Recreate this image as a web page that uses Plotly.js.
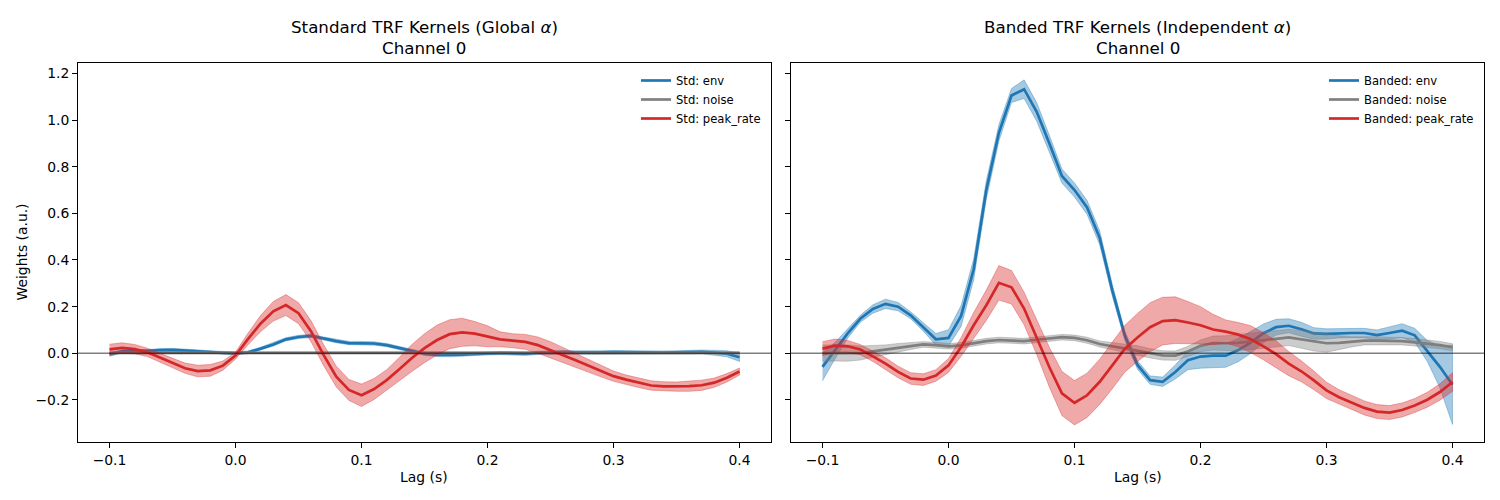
<!DOCTYPE html>
<html>
<head>
<meta charset="utf-8">
<script src="https://cdn.plot.ly/plotly-3.0.1.min.js"></script>
<style>
  html, body { margin: 0; padding: 0; background: #fff; }
  #chart { width: 1500px; height: 500px; }
</style>
</head>
<body>
<div id="chart"></div>
<script>
// Lags (s)
const lags = [
  -0.10, -0.09, -0.08, -0.07, -0.06, -0.05, -0.04, -0.03, -0.02, -0.01,
   0.00,  0.01,  0.02,  0.03,  0.04,  0.05,  0.06,  0.07,  0.08,  0.09,
   0.10,  0.11,  0.12,  0.13,  0.14,  0.15,  0.16,  0.17,  0.18,  0.19,
   0.20,  0.21,  0.22,  0.23,  0.24,  0.25,  0.26,  0.27,  0.28,  0.29,
   0.30,  0.31,  0.32,  0.33,  0.34,  0.35,  0.36,  0.37,  0.38,  0.39,
   0.40
];

// Standard model (global alpha): mean kernel and spread per feature
const stdEnv = [
  -0.005, 0.008, 0.010, 0.010, 0.014, 0.015, 0.012, 0.008, 0.006, 0.002,
   0.000, 0.004, 0.020, 0.038, 0.060, 0.070, 0.075, 0.063, 0.052, 0.044,
   0.044, 0.042, 0.035, 0.023, 0.010, -0.002, -0.007, -0.008, -0.006, -0.003,
   0.000, 0.001, 0.000, -0.002, 0.002, 0.004, 0.005, 0.004, 0.003, 0.004,
   0.005, 0.004, 0.003, 0.005, 0.003, 0.004, 0.005, 0.006, 0.003, -0.002,
  -0.017
];
const stdEnvErr = [
  0.008, 0.007, 0.006, 0.006, 0.006, 0.006, 0.006, 0.006, 0.006, 0.006,
  0.006, 0.006, 0.006, 0.007, 0.007, 0.007, 0.007, 0.007, 0.007, 0.007,
  0.007, 0.007, 0.007, 0.007, 0.007, 0.007, 0.007, 0.007, 0.007, 0.007,
  0.007, 0.007, 0.007, 0.007, 0.007, 0.007, 0.007, 0.007, 0.007, 0.007,
  0.007, 0.007, 0.007, 0.007, 0.007, 0.007, 0.008, 0.008, 0.010, 0.013,
  0.018
];
const stdNoise = [
  0.002, 0.002, 0.003, 0.003, 0.003, 0.003, 0.003, 0.003, 0.003, 0.002,
  0.002, 0.002, 0.003, 0.003, 0.003, 0.004, 0.004, 0.004, 0.004, 0.004,
  0.004, 0.003, 0.003, 0.003, 0.003, 0.003, 0.002, 0.002, 0.002, 0.002,
  0.002, 0.002, 0.002, 0.002, 0.002, 0.002, 0.002, 0.002, 0.002, 0.002,
  0.002, 0.002, 0.002, 0.002, 0.002, 0.002, 0.002, 0.002, 0.002, 0.002,
  0.002
];
const stdNoiseErr = [
  0.004, 0.004, 0.004, 0.004, 0.004, 0.004, 0.004, 0.004, 0.004, 0.004,
  0.004, 0.004, 0.004, 0.004, 0.004, 0.004, 0.004, 0.004, 0.004, 0.004,
  0.004, 0.004, 0.004, 0.004, 0.004, 0.004, 0.004, 0.004, 0.004, 0.004,
  0.004, 0.004, 0.004, 0.004, 0.004, 0.004, 0.004, 0.004, 0.004, 0.004,
  0.004, 0.004, 0.004, 0.004, 0.004, 0.004, 0.004, 0.004, 0.004, 0.004,
  0.004
];
const stdPeak = [
   0.017, 0.023, 0.018, 0.004, -0.018, -0.042, -0.064, -0.076, -0.073, -0.053,
  -0.010, 0.062, 0.128, 0.180, 0.207, 0.172, 0.094, -0.008, -0.100, -0.157,
  -0.180, -0.153, -0.115, -0.068, -0.020, 0.022, 0.057, 0.082, 0.090, 0.084,
   0.073, 0.060, 0.054, 0.049, 0.035, 0.015, -0.008, -0.030, -0.052, -0.076,
  -0.098, -0.113, -0.127, -0.138, -0.142, -0.143, -0.141, -0.137, -0.126, -0.105,
  -0.078
];
const stdPeakErr = [
  0.022, 0.022, 0.020, 0.018, 0.018, 0.020, 0.022, 0.025, 0.025, 0.020,
  0.015, 0.025, 0.035, 0.042, 0.045, 0.045, 0.045, 0.045, 0.045, 0.045,
  0.048, 0.045, 0.045, 0.050, 0.058, 0.062, 0.064, 0.062, 0.060, 0.052,
  0.045, 0.032, 0.030, 0.032, 0.035, 0.035, 0.033, 0.030, 0.028, 0.025,
  0.022, 0.020, 0.020, 0.020, 0.020, 0.020, 0.022, 0.022, 0.020, 0.018,
  0.015
];

// Banded model (independent alpha per feature)
const bandEnv = [
  -0.058, 0.012, 0.085, 0.148, 0.190, 0.212, 0.200, 0.163, 0.113, 0.060,
   0.066, 0.160, 0.360, 0.700, 0.945, 1.105, 1.132, 1.035, 0.900, 0.760,
   0.700, 0.625, 0.495, 0.270, 0.075, -0.050, -0.115, -0.122, -0.080, -0.030,
  -0.014, -0.010, -0.010, 0.014, 0.047, 0.086, 0.112, 0.118, 0.103, 0.085,
   0.083, 0.086, 0.087, 0.087, 0.078, 0.087, 0.097, 0.077, 0.010, -0.058,
  -0.135
];
const bandEnvErr = [
  0.060, 0.035, 0.020, 0.015, 0.018, 0.020, 0.018, 0.015, 0.018, 0.025,
  0.035, 0.045, 0.045, 0.040, 0.035, 0.030, 0.040, 0.040, 0.035, 0.030,
  0.030, 0.030, 0.030, 0.025, 0.020, 0.018, 0.018, 0.020, 0.030, 0.040,
  0.050, 0.052, 0.050, 0.050, 0.047, 0.040, 0.034, 0.030, 0.030, 0.025,
  0.022, 0.020, 0.020, 0.020, 0.022, 0.025, 0.030, 0.030, 0.045, 0.090,
  0.170
];
const bandNoise = [
   0.001, 0.002, 0.001, 0.001, 0.008, 0.016, 0.024, 0.031, 0.038, 0.035,
   0.030, 0.034, 0.044, 0.052, 0.057, 0.055, 0.052, 0.058, 0.064, 0.069,
   0.066, 0.056, 0.040, 0.030, 0.022, 0.012, 0.000, -0.009, -0.010, 0.008,
   0.032, 0.044, 0.043, 0.045, 0.051, 0.058, 0.062, 0.068, 0.060, 0.050,
   0.043, 0.045, 0.049, 0.054, 0.054, 0.053, 0.052, 0.047, 0.042, 0.035,
   0.026
];
const bandNoiseErr = [
  0.035, 0.035, 0.035, 0.030, 0.025, 0.020, 0.018, 0.015, 0.012, 0.012,
  0.012, 0.012, 0.012, 0.012, 0.012, 0.012, 0.012, 0.012, 0.012, 0.012,
  0.012, 0.013, 0.013, 0.015, 0.018, 0.020, 0.020, 0.020, 0.020, 0.022,
  0.025, 0.030, 0.032, 0.035, 0.035, 0.035, 0.035, 0.035, 0.038, 0.040,
  0.038, 0.030, 0.022, 0.018, 0.017, 0.016, 0.016, 0.016, 0.016, 0.016,
  0.015
];
const bandPeak = [
   0.020, 0.033, 0.030, 0.016, -0.013, -0.044, -0.080, -0.108, -0.113, -0.095,
  -0.052, 0.027, 0.120, 0.206, 0.302, 0.283, 0.192, 0.070, -0.059, -0.172,
  -0.212, -0.180, -0.122, -0.052, 0.020, 0.068, 0.112, 0.138, 0.142, 0.132,
   0.120, 0.102, 0.093, 0.080, 0.060, 0.030, -0.004, -0.044, -0.077, -0.116,
  -0.159, -0.188, -0.211, -0.234, -0.250, -0.254, -0.243, -0.224, -0.199, -0.166,
  -0.123
];
const bandPeakErr = [
  0.030, 0.028, 0.025, 0.022, 0.022, 0.025, 0.025, 0.025, 0.025, 0.025,
  0.030, 0.040, 0.055, 0.065, 0.074, 0.072, 0.070, 0.075, 0.085, 0.095,
  0.095, 0.095, 0.097, 0.100, 0.100, 0.103, 0.105, 0.102, 0.100, 0.090,
  0.080, 0.065, 0.050, 0.052, 0.058, 0.058, 0.057, 0.052, 0.045, 0.040,
  0.035, 0.032, 0.030, 0.030, 0.030, 0.030, 0.030, 0.030, 0.032, 0.035,
  0.040
];

const xTickVals = [-0.1, 0.0, 0.1, 0.2, 0.3, 0.4];
const xTickText = ['\u22120.1', '0.0', '0.1', '0.2', '0.3', '0.4'];
const yTickVals = [-0.2, 0.0, 0.2, 0.4, 0.6, 0.8, 1.0, 1.2];
const yTickText = ['\u22120.2', '0.0', '0.2', '0.4', '0.6', '0.8', '1.0', '1.2'];

const COLORS = {
  env:   [31, 119, 180],
  noise: [127, 127, 127],
  peak:  [214, 39, 40]
};
const rgb  = c => `rgb(${c[0]},${c[1]},${c[2]})`;
const rgba = (c, a) => `rgba(${c[0]},${c[1]},${c[2]},${a})`;

const FONT = 'DejaVu Sans, Liberation Sans, sans-serif';

// One kernel: the mean line, then its +/- spread band drawn over it
function kernel(mean, err, color, name, xa, ya, legendId) {
  const upper = mean.map((m, i) => m + err[i]);
  const lower = mean.map((m, i) => m - err[i]);
  const line = {
    x: lags, y: mean, type: 'scatter', mode: 'lines',
    name: name, xaxis: xa, yaxis: ya, legend: legendId,
    line: { color: rgb(color), width: 2.7 },
    hoverinfo: 'skip'
  };
  const band = {
    x: lags.concat(lags.slice().reverse()),
    y: upper.concat(lower.slice().reverse()),
    type: 'scatter', mode: 'lines', fill: 'toself',
    fillcolor: rgba(color, 0.4),
    line: { color: rgba(color, 0.35), width: 1 },
    xaxis: xa, yaxis: ya, showlegend: false, hoverinfo: 'skip'
  };
  return [line, band];
}

const traces = [].concat(
  kernel(stdEnv,   stdEnvErr,   COLORS.env,   'Std: env',       'x',  'y',  'legend'),
  kernel(stdNoise, stdNoiseErr, COLORS.noise, 'Std: noise',     'x',  'y',  'legend'),
  kernel(stdPeak,  stdPeakErr,  COLORS.peak,  'Std: peak_rate', 'x',  'y',  'legend'),
  kernel(bandEnv,   bandEnvErr,   COLORS.env,   'Banded: env',       'x2', 'y2', 'legend2'),
  kernel(bandNoise, bandNoiseErr, COLORS.noise, 'Banded: noise',     'x2', 'y2', 'legend2'),
  kernel(bandPeak,  bandPeakErr,  COLORS.peak,  'Banded: peak_rate', 'x2', 'y2', 'legend2')
);

const W = 1500, H = 500;
const px = v => v / W;
const py = v => 1 - v / H;

const xRange = [-0.125, 0.425];
const yRange = [-0.3815, 1.2456];

const axisCommon = {
  showline: true, mirror: true, linecolor: '#000', linewidth: 1,
  showgrid: false, zeroline: false,
  ticks: 'outside', ticklen: 5, tickwidth: 1, tickcolor: '#000',
  tickfont: { family: FONT, size: 13.9, color: '#000' },
  automargin: false, fixedrange: true
};

const legendCommon = {
  font: { family: FONT, size: 11.6, color: '#000' },
  bgcolor: 'rgba(0,0,0,0)', borderwidth: 0,
  xanchor: 'right', yanchor: 'top',
  itemwidth: 30, tracegroupgap: 0
};

const layout = {
  width: W, height: H,
  margin: { l: 0, r: 0, t: 0, b: 0 },
  paper_bgcolor: '#fff', plot_bgcolor: '#fff',
  font: { family: FONT, color: '#000' },
  xaxis: Object.assign({}, axisCommon, {
    domain: [px(78), px(771)], range: xRange, anchor: 'y',
    tickvals: xTickVals, ticktext: xTickText
  }),
  yaxis: Object.assign({}, axisCommon, {
    domain: [py(442.3), py(62.7)], range: yRange, anchor: 'x',
    tickvals: yTickVals, ticktext: yTickText
  }),
  xaxis2: Object.assign({}, axisCommon, {
    domain: [px(791), px(1484)], range: xRange, anchor: 'y2',
    tickvals: xTickVals, ticktext: xTickText
  }),
  yaxis2: Object.assign({}, axisCommon, {
    domain: [py(442.3), py(62.7)], range: yRange, anchor: 'x2',
    tickvals: yTickVals, showticklabels: false
  }),
  legend:  Object.assign({}, legendCommon, { x: px(766), y: py(66) }),
  legend2: Object.assign({}, legendCommon, { x: px(1479), y: py(66) }),
  shapes: [
    { type: 'line', xref: 'x domain', yref: 'y', x0: 0, x1: 1, y0: 0, y1: 0,
      line: { color: 'rgba(0,0,0,0.5)', width: 1.4 }, layer: 'above' },
    { type: 'line', xref: 'x2 domain', yref: 'y2', x0: 0, x1: 1, y0: 0, y1: 0,
      line: { color: 'rgba(0,0,0,0.5)', width: 1.4 }, layer: 'above' }
  ],
  annotations: [
    { text: 'Standard TRF Kernels (Global <i>α</i>)', xref: 'paper', yref: 'paper',
      x: px(424.5), y: py(27), xanchor: 'center', yanchor: 'middle', showarrow: false,
      font: { family: FONT, size: 16.7, color: '#000' } },
    { text: 'Channel 0', xref: 'paper', yref: 'paper',
      x: px(424.5), y: py(48), xanchor: 'center', yanchor: 'middle', showarrow: false,
      font: { family: FONT, size: 16.7, color: '#000' } },
    { text: 'Banded TRF Kernels (Independent <i>α</i>)', xref: 'paper', yref: 'paper',
      x: px(1137.5), y: py(27), xanchor: 'center', yanchor: 'middle', showarrow: false,
      font: { family: FONT, size: 16.7, color: '#000' } },
    { text: 'Channel 0', xref: 'paper', yref: 'paper',
      x: px(1137.5), y: py(48), xanchor: 'center', yanchor: 'middle', showarrow: false,
      font: { family: FONT, size: 16.7, color: '#000' } },
    { text: 'Lag (s)', xref: 'paper', yref: 'paper',
      x: px(424.5), y: py(477), xanchor: 'center', yanchor: 'middle', showarrow: false,
      font: { family: FONT, size: 13.9, color: '#000' } },
    { text: 'Lag (s)', xref: 'paper', yref: 'paper',
      x: px(1137.5), y: py(477), xanchor: 'center', yanchor: 'middle', showarrow: false,
      font: { family: FONT, size: 13.9, color: '#000' } },
    { text: 'Weights (a.u.)', xref: 'paper', yref: 'paper', textangle: -90,
      x: px(21), y: py(252.5), xanchor: 'center', yanchor: 'middle', showarrow: false,
      font: { family: FONT, size: 13.9, color: '#000' } }
  ]
};

Plotly.newPlot('chart', traces, layout, { staticPlot: true, displayModeBar: false });
</script>
</body>
</html>
